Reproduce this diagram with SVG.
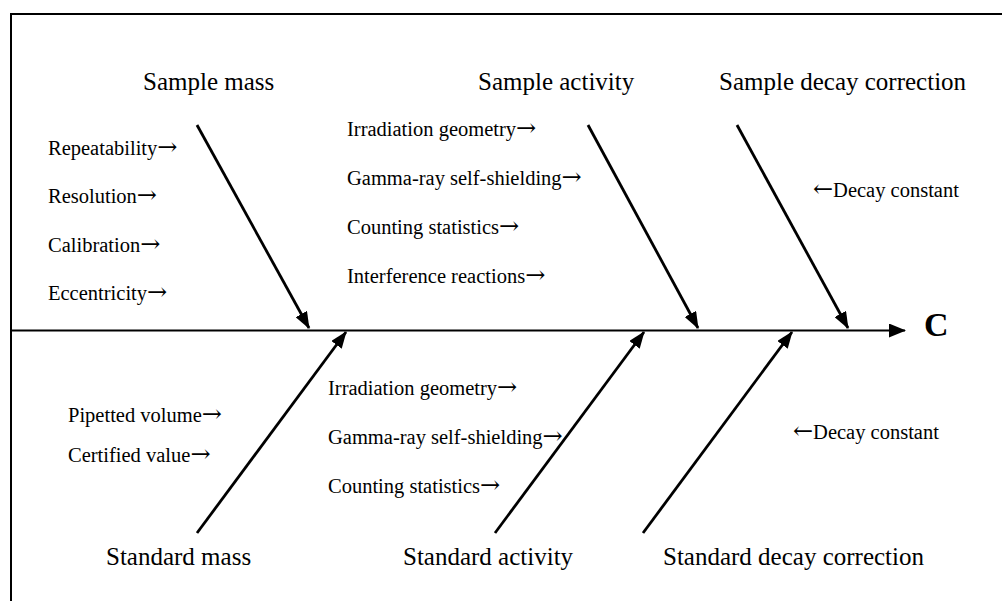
<svg xmlns="http://www.w3.org/2000/svg" width="1002" height="601" viewBox="0 0 1002 601">
<style>
.t{font-family:"Liberation Serif","Times New Roman",serif;font-size:25px;fill:#000}
.l{font-family:"Liberation Serif","Times New Roman",serif;font-size:20.5px;fill:#000}
.a{font-family:"DejaVu Serif",serif;font-size:24px}
.c{font-family:"Liberation Serif","Times New Roman",serif;font-size:34px;font-weight:bold;fill:#000}
.b{stroke:#000;stroke-width:2.8;fill:none;marker-end:url(#ah)}
</style>
<defs>
<marker id="ah" markerUnits="userSpaceOnUse" markerWidth="17" markerHeight="13" refX="16" refY="6.5" orient="auto" viewBox="0 0 17 13">
<path d="M0,0 L17,6.5 L0,13 z" fill="#000"/>
</marker>
<marker id="sh" markerUnits="userSpaceOnUse" markerWidth="17" markerHeight="14" refX="16" refY="7" orient="auto" viewBox="0 0 17 14">
<path d="M0,0 L17,7 L0,14 z" fill="#000"/>
</marker>
</defs>
<rect width="1002" height="601" fill="#fff"/>
<g id="frame" stroke="#000" stroke-width="2" fill="none">
<path d="M11,601 L11,14 L1002,14"/>
</g>
<g id="connectors">
<line x1="11" y1="330.5" x2="905" y2="330.5" stroke="#000" stroke-width="2" marker-end="url(#sh)"/>
<line class="b" x1="197" y1="125" x2="309" y2="328"/>
<line class="b" x1="588" y1="125" x2="698" y2="328"/>
<line class="b" x1="737" y1="125" x2="848" y2="328"/>
<line class="b" x1="197" y1="533" x2="346" y2="332"/>
<line class="b" x1="495" y1="533" x2="644" y2="332"/>
<line class="b" x1="643" y1="533" x2="792" y2="332"/>
</g>
<g id="effect"><text class="c" x="924" y="336">C</text></g>
<g id="sample-mass">
<text class="t" x="143" y="90">Sample mass</text>
<text class="l" x="48" y="155">Repeatability<tspan class="a">→</tspan></text>
<text class="l" x="48" y="203">Resolution<tspan class="a">→</tspan></text>
<text class="l" x="48" y="252">Calibration<tspan class="a">→</tspan></text>
<text class="l" x="48" y="300">Eccentricity<tspan class="a">→</tspan></text>
</g>
<g id="sample-activity">
<text class="t" x="478" y="90">Sample activity</text>
<text class="l" x="347" y="136">Irradiation geometry<tspan class="a">→</tspan></text>
<text class="l" x="347" y="185">Gamma-ray self-shielding<tspan class="a">→</tspan></text>
<text class="l" x="347" y="234">Counting statistics<tspan class="a">→</tspan></text>
<text class="l" x="347" y="283">Interference reactions<tspan class="a">→</tspan></text>
</g>
<g id="sample-decay">
<text class="t" x="719" y="90">Sample decay correction</text>
<text class="l" x="813" y="197"><tspan class="a">←</tspan>Decay constant</text>
</g>
<g id="standard-mass">
<text class="t" x="106" y="565">Standard mass</text>
<text class="l" x="68" y="422">Pipetted volume<tspan class="a">→</tspan></text>
<text class="l" x="68" y="462">Certified value<tspan class="a">→</tspan></text>
</g>
<g id="standard-activity">
<text class="t" x="403" y="565">Standard activity</text>
<text class="l" x="328" y="395">Irradiation geometry<tspan class="a">→</tspan></text>
<text class="l" x="328" y="444">Gamma-ray self-shielding<tspan class="a">→</tspan></text>
<text class="l" x="328" y="493">Counting statistics<tspan class="a">→</tspan></text>
</g>
<g id="standard-decay">
<text class="t" x="663" y="565">Standard decay correction</text>
<text class="l" x="793" y="439"><tspan class="a">←</tspan>Decay constant</text>
</g>
</svg>
